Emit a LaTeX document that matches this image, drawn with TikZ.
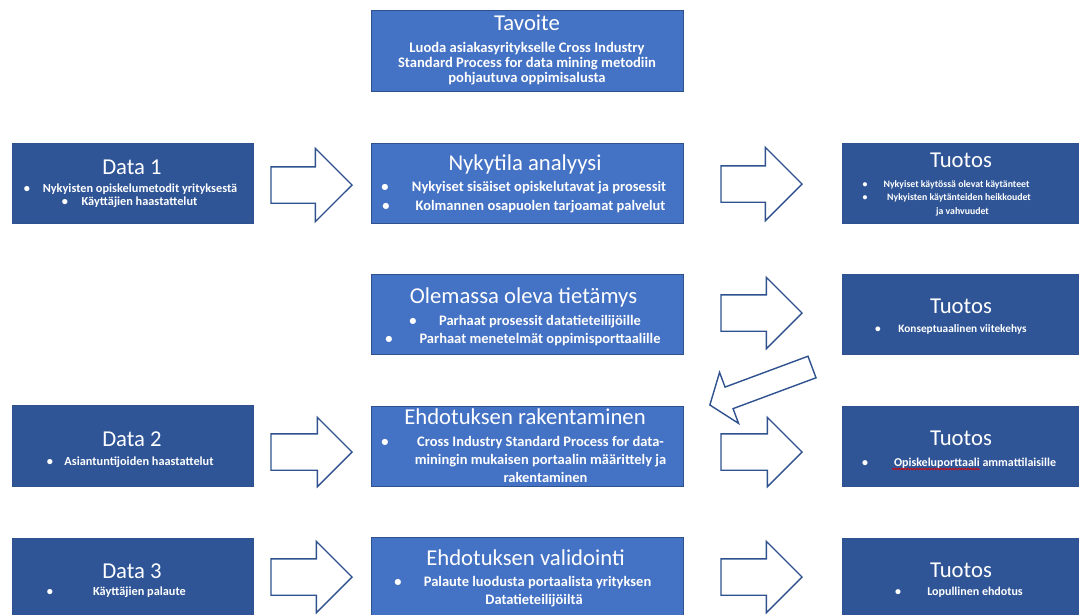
\documentclass[tikz,border=0pt]{standalone}
\usepackage{fontspec}
\setmainfont{Carlito}
\usetikzlibrary{shapes.arrows,decorations.pathmorphing}
\definecolor{darkfill}{HTML}{2F5597}
\definecolor{lightfill}{HTML}{4472C4}
\definecolor{edgeblue}{HTML}{2F528F}
\tikzset{
  dbox/.style={rectangle, fill=darkfill, draw=edgeblue, line width=0.6pt, minimum width=241pt, minimum height=80pt, inner sep=0pt},
  lbox/.style={rectangle, fill=lightfill, draw=edgeblue, line width=0.9pt, minimum width=312pt, minimum height=80pt, inner sep=0pt},
  txt/.style={text=white, inner sep=0pt, anchor=base},
  ttl/.style={txt, font=\fontsize{22.7}{24}\selectfont},
  bodyT/.style={txt, font=\fontsize{14.6}{15}\selectfont\bfseries},
  bodyM/.style={txt, font=\fontsize{14.5}{15}\selectfont\bfseries},
  bodyD/.style={txt, font=\fontsize{12.3}{13}\selectfont\bfseries},
  bodyR/.style={txt, font=\fontsize{9.8}{11}\selectfont\bfseries},
  bodyS/.style={txt, font=\fontsize{11.3}{12}\selectfont\bfseries},
  bodyU/.style={txt, font=\fontsize{12}{13}\selectfont\bfseries},
  squiggle/.style={draw=red!85!black, line width=0.8pt, decorate, decoration={snake, amplitude=0.7pt, segment length=3pt}},
  blockarrow/.style={single arrow, draw=edgeblue, fill=white, line width=1.4pt,
    inner xsep=0pt, inner ysep=17.5pt, outer sep=0pt, minimum height=81pt,
    minimum width=70pt, single arrow head extend=17.5pt, anchor=tail}
}
\begin{document}
\begin{tikzpicture}[x=1pt,y=-1pt]
\useasboundingbox (0,0) rectangle (1079,614);
\clip (0,0) rectangle (1079,614);
\fill[white] (0,0) rectangle (1079,614);

% boxes
\node[lbox, minimum height=81pt] (tav) at (527,50.5) {};
\node[dbox] (d1) at (132.5,183) {};
\node[lbox] (nyk) at (527,183) {};
\node[dbox] (t1) at (962.5,183) {};
\node[lbox] (ole) at (527,314) {};
\node[dbox] (t2) at (962.5,314) {};
\node[dbox, minimum height=81pt] (d2) at (132.5,445.5) {};
\node[lbox] (ehd) at (527,446) {};
\node[dbox] (t3) at (962.5,446) {};
\node[dbox] (d3) at (132.5,578) {};
\node[lbox] (val) at (527,577) {};
\node[dbox] (t4) at (962.5,578) {};

% block arrows
\node[blockarrow, minimum width=72pt, single arrow head extend=18.5pt] (a1) at (271,185) {};
\node[blockarrow, minimum width=72pt, single arrow head extend=18.5pt] (a2) at (721,184) {};
\node[blockarrow] (a3) at (721,313) {};
\node[blockarrow, minimum width=68pt, single arrow head extend=16.5pt] (a4) at (271,452) {};
\node[blockarrow, minimum width=68pt, single arrow head extend=16.5pt] (a5) at (721,452) {};
\node[blockarrow] (a6) at (271,577) {};
\node[blockarrow] (a7) at (721,577) {};
\node[blockarrow, rotate=200.4, minimum height=109pt, inner ysep=10.8pt,
  minimum width=53pt, single arrow head extend=15.7pt, single arrow tip angle=106] (a8) at (812,367) {};

% Tavoite
\node[ttl] (tavT) at (527,30.7) {Tavoite};
\node[bodyT] (tav1) at (527,52) {Luoda asiakasyritykselle Cross Industry};
\node[bodyT] (tav2) at (527,67) {Standard Process for data mining metodiin};
\node[bodyT] (tav3) at (527,82) {pohjautuva oppimisalusta};

% Data 1
\node[ttl] (d1T) at (132,174) {Data 1};
\node[bodyD] (d1b1) at (27,192.7) {•};
\node[bodyD] (d1l1) at (140,192.7) {Nykyisten opiskelumetodit yrityksestä};
\node[bodyD] (d1b2) at (65,205.4) {•};
\node[bodyD] (d1l2) at (139.5,205.4) {Käyttäjien haastattelut};

% Nykytila
\node[ttl] (nykT) at (525,170.7) {Nykytila analyysi};
\node[bodyM] (nykb1) at (385,191.7) {•};
\node[bodyM] (nykl1) at (539,191.7) {Nykyiset sisäiset opiskelutavat ja prosessit};
\node[bodyM] (nykb2) at (386,210.4) {•};
\node[bodyM] (nykl2) at (540.5,210.4) {Kolmannen osapuolen tarjoamat palvelut};

% Tuotos 1
\node[ttl] (t1T) at (961,167) {Tuotos};
\node[bodyR] (t1b1) at (865,187) {•};
\node[bodyR] (t1l1) at (956.5,187) {Nykyiset käytössä olevat käytänteet};
\node[bodyR] (t1b2) at (865,200.5) {•};
\node[bodyR] (t1l2) at (959,200.5) {Nykyisten käytänteiden heikkoudet};
\node[bodyR] (t1l3) at (962.5,214) {ja vahvuudet};

% Olemassa
\node[ttl] (oleT) at (523.5,303.3) {Olemassa oleva tietämys};
\node[bodyM] (oleb1) at (413,325) {•};
\node[bodyM] (olel1) at (540,325) {Parhaat prosessit datatieteilijöille};
\node[bodyM] (oleb2) at (389,343) {•};
\node[bodyM] (olel2) at (540,343) {Parhaat menetelmät oppimisporttaalille};

% Tuotos 2
\node[ttl] (t2T) at (961,313) {Tuotos};
\node[bodyS] (t2b1) at (878,332.3) {•};
\node[bodyS] (t2l1) at (962.5,332.3) {Konseptuaalinen viitekehys};

% Data 2
\node[ttl] (d2T) at (132,446.3) {Data 2};
\node[bodyD] (d2b1) at (50,465.7) {•};
\node[bodyD] (d2l1) at (139,465.7) {Asiantuntijoiden haastattelut};

% Ehdotuksen rakentaminen
\node[ttl] (ehdT) at (525,424.7) {Ehdotuksen rakentaminen};
\node[bodyM] (ehdb1) at (385,446.4) {•};
\node[bodyM] (ehdl1) at (540.5,446.4) {Cross Industry Standard Process for data-};
\node[bodyM] (ehdl2) at (540.5,464.4) {miningin mukaisen portaalin määrittely ja};
\node[bodyM] (ehdl3) at (545.5,482) {rakentaminen};

% Tuotos 3
\node[ttl] (t3T) at (961,445) {Tuotos};
\node[bodyU] (t3b1) at (865,466) {•};
\node[bodyU] (t3l1) at (975,466) {Opiskeluporttaali ammattilaisille};
\draw[squiggle] (892,469) -- (980,469);

% Data 3
\node[ttl] (d3T) at (132,578.7) {Data 3};
\node[bodyD] (d3b1) at (50,595.4) {•};
\node[bodyD] (d3l1) at (139.5,595.4) {Käyttäjien palaute};

% Ehdotuksen validointi
\node[ttl] (valT) at (525.5,565.7) {Ehdotuksen validointi};
\node[bodyM] (valb1) at (398,586.5) {•};
\node[bodyM] (vall1) at (537.5,586.5) {Palaute luodusta portaalista yrityksen};
\node[bodyM] (vall2) at (534,604.5) {Datatieteilijöiltä};

% Tuotos 4
\node[ttl] (t4T) at (961,577.7) {Tuotos};
\node[bodyU] (t4b1) at (898,595.7) {•};
\node[bodyU] (t4l1) at (975,595.7) {Lopullinen ehdotus};
\end{tikzpicture}
\end{document}
